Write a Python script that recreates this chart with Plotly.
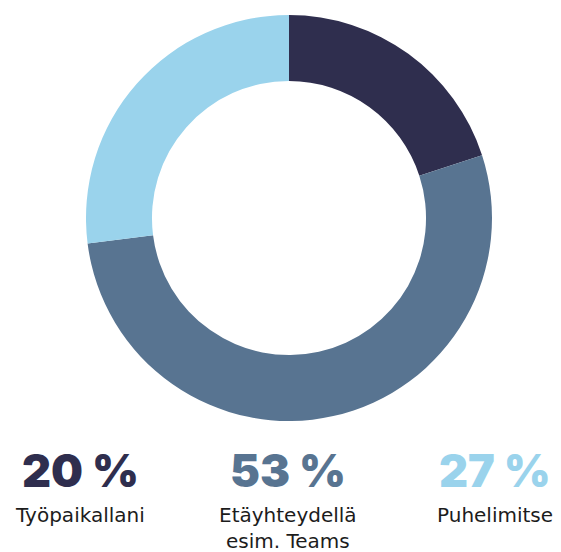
import plotly.graph_objects as go

categories = ["Työpaikallani", "Etäyhteydellä<br>esim. Teams", "Puhelimitse"]
values = [20, 53, 27]
pct_labels = ["20 %", "53 %", "27 %"]
colors = ["#2f2e4e", "#587491", "#9ad3ec"]

OFF = 8  # browser default body margin
W, H = 561 - 2 * OFF, 552 - OFF


def px(x):
    return (x - OFF) / W


def py(y):
    return 1 - (y - OFF) / H


fig = go.Figure(go.Pie(
    labels=categories,
    values=values,
    sort=False,
    direction="clockwise",
    rotation=0,
    hole=0.675,
    marker=dict(colors=colors, line=dict(width=0)),
    textinfo="none",
    hoverinfo="skip",
    domain=dict(x=[px(86), px(492)], y=[py(421), py(15)]),
    showlegend=False,
))

xcent = [80, 288, 495]
for i in range(3):
    fig.add_annotation(
        x=px(xcent[i]), y=py(470), xref="paper", yref="paper",
        text=pct_labels[i], showarrow=False, xanchor="center", yanchor="middle",
        font=dict(family="Inter", size=45, color=colors[i], weight=900),
    )
    fig.add_annotation(
        x=px(xcent[i]), y=py(501), xref="paper", yref="paper",
        text=categories[i], showarrow=False, xanchor="center", yanchor="top",
        font=dict(family="DejaVu Sans", size=20, color="#1c1c1c"),
    )

fig.update_layout(
    width=W, height=H,
    margin=dict(l=0, r=0, t=0, b=0),
    paper_bgcolor="white", plot_bgcolor="white",
)

fig.write_html("out.html")
